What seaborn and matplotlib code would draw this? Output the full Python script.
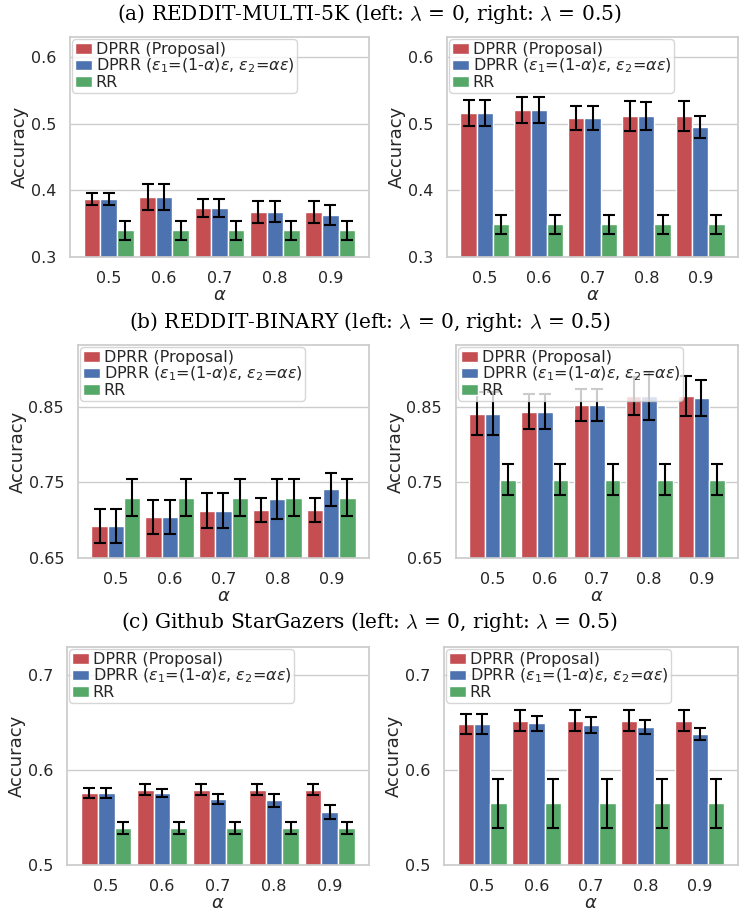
import numpy as np
import pandas as pd
import matplotlib
matplotlib.use("Agg")
from matplotlib import pyplot as plt
import seaborn as sns

# ---------------- data ----------------
alphas = ["0.5", "0.6", "0.7", "0.8", "0.9"]
methods = ["DPRR (Proposal)",
           r"DPRR ($\varepsilon_1$=(1-$\alpha$)$\varepsilon$, $\varepsilon_2$=$\alpha\varepsilon$)",
           "RR"]
colors = ["#C44E52", "#4C72B0", "#55A868"]

# (a) REDDIT-MULTI-5K
a0_prop = [0.387, 0.390, 0.3735, 0.368, 0.368]
a0_prop_err = [0.009, 0.020, 0.014, 0.0165, 0.0165]
a0_split = [0.387, 0.390, 0.3735, 0.368, 0.3625]
a0_split_err = [0.009, 0.020, 0.014, 0.016, 0.015]
a0_rr = [0.340, 0.340, 0.340, 0.340, 0.340]
a0_rr_err = [0.014, 0.014, 0.014, 0.014, 0.014]

a5_prop = [0.516, 0.521, 0.509, 0.511, 0.511]
a5_prop_err = [0.020, 0.0195, 0.018, 0.0225, 0.0225]
a5_split = [0.516, 0.521, 0.509, 0.511, 0.495]
a5_split_err = [0.020, 0.0195, 0.018, 0.021, 0.0165]
a5_rr = [0.349, 0.349, 0.349, 0.349, 0.349]
a5_rr_err = [0.0146, 0.0146, 0.0146, 0.0146, 0.0146]

# (b) REDDIT-BINARY
b0_prop = [0.6928, 0.7043, 0.7127, 0.7136, 0.7136]
b0_prop_err = [0.0223, 0.022, 0.023, 0.0155, 0.0155]
b0_split = [0.6928, 0.7043, 0.7127, 0.7281, 0.741]
b0_split_err = [0.0223, 0.022, 0.023, 0.027, 0.022]
b0_rr = [0.730, 0.730, 0.730, 0.730, 0.730]
b0_rr_err = [0.025, 0.025, 0.025, 0.025, 0.025]

b5_prop = [0.8412, 0.8438, 0.8522, 0.8646, 0.8646]
b5_prop_err = [0.029, 0.0236, 0.021, 0.0256, 0.0267]
b5_split = [0.8412, 0.8438, 0.8522, 0.8646, 0.8619]
b5_split_err = [0.029, 0.0236, 0.021, 0.032, 0.0243]
b5_rr = [0.7538, 0.7538, 0.7538, 0.7538, 0.7538]
b5_rr_err = [0.020, 0.020, 0.020, 0.020, 0.020]

# (c) Github StarGazers
c0_prop = [0.5761, 0.5796, 0.5796, 0.5796, 0.5796]
c0_prop_err = [0.0056, 0.0058, 0.0058, 0.0058, 0.0058]
c0_split = [0.5761, 0.5761, 0.5695, 0.5684, 0.5558]
c0_split_err = [0.0056, 0.0044, 0.005, 0.007, 0.0077]
c0_rr = [0.5389, 0.5389, 0.5389, 0.5389, 0.5389]
c0_rr_err = [0.006, 0.006, 0.006, 0.006, 0.006]

c5_prop = [0.6488, 0.6523, 0.6523, 0.6523, 0.6523]
c5_prop_err = [0.0107, 0.011, 0.011, 0.011, 0.011]
c5_split = [0.6488, 0.6495, 0.648, 0.6456, 0.6382]
c5_split_err = [0.0107, 0.0082, 0.0086, 0.0075, 0.0067]
c5_rr = [0.5649, 0.5649, 0.5649, 0.5649, 0.5649]
c5_rr_err = [0.0258, 0.0258, 0.0258, 0.0258, 0.0258]

titles = [r"(a) REDDIT-MULTI-5K (left: $\lambda$ = 0, right: $\lambda$ = 0.5)",
          r"(b) REDDIT-BINARY (left: $\lambda$ = 0, right: $\lambda$ = 0.5)",
          r"(c) Github StarGazers (left: $\lambda$ = 0, right: $\lambda$ = 0.5)"]

sns.set_theme(style="whitegrid")
plt.rcParams["font.family"] = ["DejaVu Sans"]
plt.rcParams["mathtext.fontset"] = "dejavusans"

W, H = 739, 911
fig = plt.figure(figsize=(W / 100, H / 100), dpi=100)

def px_axes(x0, x1, top, bottom):
    return fig.add_axes([x0 / W, 1 - bottom / H, (x1 - x0) / W, (bottom - top) / H])

def panel(ax, means, errs, ylim, yticks, fmt):
    df = pd.DataFrame({
        "alpha": alphas * 3,
        "acc": [v for m in means for v in m],
        "method": [methods[i] for i in range(3) for _ in alphas],
    })
    sns.barplot(data=df, x="alpha", y="acc", hue="method", palette=colors,
                hue_order=methods, order=alphas, width=0.9, errorbar=None,
                saturation=1, edgecolor="white", linewidth=1, ax=ax)
    for cont, m, e in zip(ax.containers, means, errs):
        xs = [b.get_x() + b.get_width() / 2 for b in cont]
        ax.errorbar(xs, m, yerr=e, fmt="none", ecolor="black",
                    elinewidth=1.5, capsize=4, capthick=1.5, zorder=3)
    ax.set_ylim(*ylim)
    ax.set_yticks(yticks)
    ax.set_yticklabels([fmt % t for t in yticks])
    ax.set_xlim(-0.7, 4.7)
    ax.tick_params(labelsize=11.5, pad=4, colors=".15")
    ax.set_xlabel(r"$\alpha$", fontsize=13, labelpad=0)
    ax.set_ylabel("Accuracy", fontsize=13, labelpad=1)
    ax.legend(loc="upper left", fontsize=11.5, labelspacing=0,
              handlelength=1.1, handleheight=0.65, handletextpad=0.2,
              borderaxespad=0.15, borderpad=0.15, framealpha=0.8)

rows = [
    dict(left=(70, 369), right=(447, 738), tb=(37, 257), title_y=14,
         ylim=(0.3, 0.63), yticks=[0.3, 0.4, 0.5, 0.6], fmt="%.1f",
         l=([a0_prop, a0_split, a0_rr], [a0_prop_err, a0_split_err, a0_rr_err]),
         r=([a5_prop, a5_split, a5_rr], [a5_prop_err, a5_split_err, a5_rr_err])),
    dict(left=(78, 369), right=(456, 738), tb=(345, 558), title_y=322,
         ylim=(0.65, 0.932), yticks=[0.65, 0.75, 0.85], fmt="%.2f",
         l=([b0_prop, b0_split, b0_rr], [b0_prop_err, b0_split_err, b0_rr_err]),
         r=([b5_prop, b5_split, b5_rr], [b5_prop_err, b5_split_err, b5_rr_err])),
    dict(left=(67, 369), right=(444, 738), tb=(647, 865), title_y=622,
         ylim=(0.5, 0.73), yticks=[0.5, 0.6, 0.7], fmt="%.1f",
         l=([c0_prop, c0_split, c0_rr], [c0_prop_err, c0_split_err, c0_rr_err]),
         r=([c5_prop, c5_split, c5_rr], [c5_prop_err, c5_split_err, c5_rr_err])),
]

for title, row in zip(titles, rows):
    top, bottom = row["tb"]
    axl = px_axes(*row["left"], top, bottom)
    axr = px_axes(*row["right"], top, bottom)
    panel(axl, *row["l"], row["ylim"], row["yticks"], row["fmt"])
    panel(axr, *row["r"], row["ylim"], row["yticks"], row["fmt"])
    fig.text(0.5, 1 - row["title_y"] / H, title, ha="center", va="center",
             fontsize=14.5, family="DejaVu Serif", color="black",
             math_fontfamily="cm")

fig.savefig("out.png", dpi=100)
